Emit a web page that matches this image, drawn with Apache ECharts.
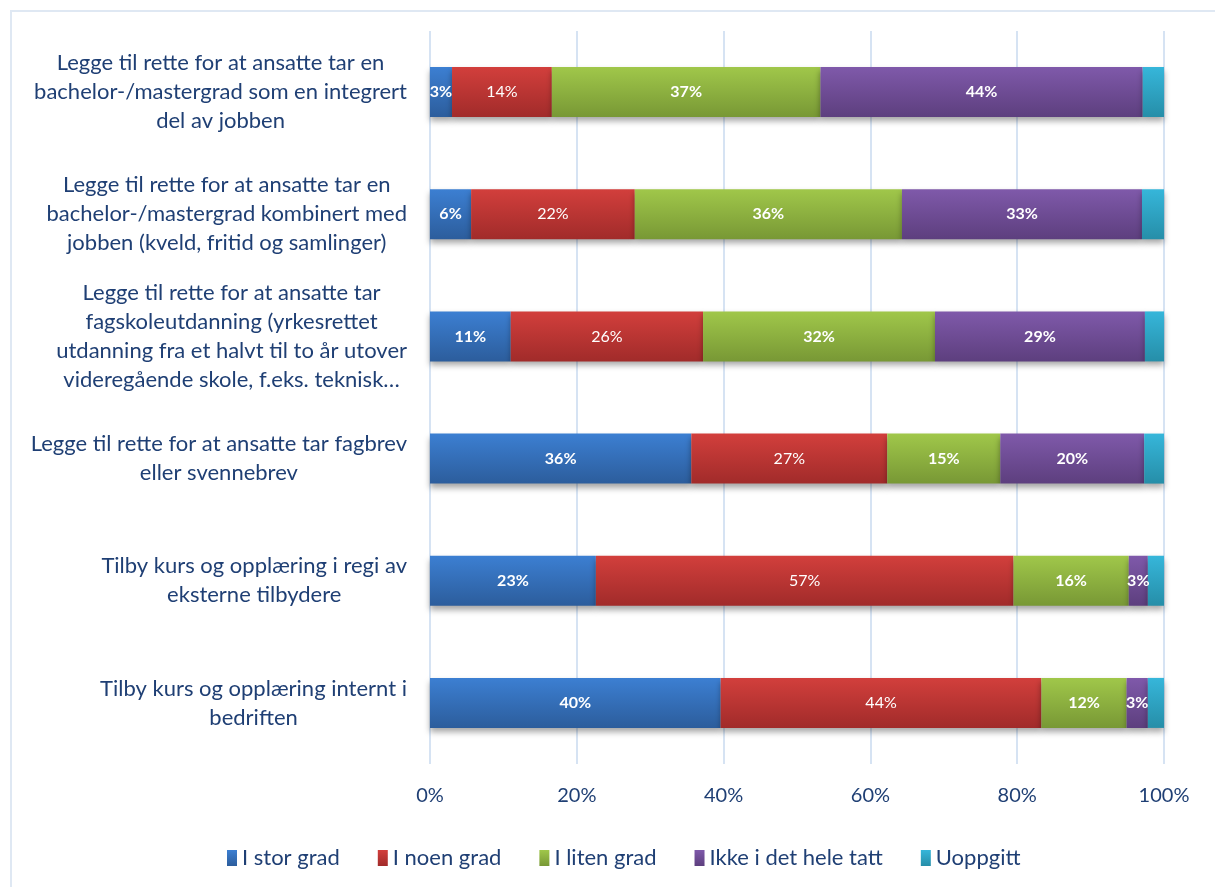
<!DOCTYPE html>
<html>
<head>
<meta charset="utf-8">
<script src="https://cdn.jsdelivr.net/npm/echarts@6/dist/echarts.min.js"></script>
<style>
  html, body { margin: 0; padding: 0; background: #fff; }
  #frame { position: absolute; left: 10px; top: 10px; width: 1220px; height: 890px; border: 2px solid #dfe8f3; box-sizing: border-box; }
  #chart { position: absolute; left: 0; top: 0; width: 1215px; height: 887px; }
</style>
</head>
<body>
<div id="frame"></div>
<div id="chart"></div>
<script>
// kategorier (ovenfra og ned)
const categories = [
  'Legge til rette for at ansatte tar en\nbachelor-/mastergrad som en integrert\ndel av jobben',
  'Legge til rette for at ansatte tar en\nbachelor-/mastergrad kombinert med\njobben (kveld, fritid og samlinger)',
  'Legge til rette for at ansatte tar\nfagskoleutdanning (yrkesrettet\nutdanning fra et halvt til to år utover\nvideregående skole, f.eks. teknisk…',
  'Legge til rette for at ansatte tar fagbrev\neller svennebrev',
  'Tilby kurs og opplæring i regi av\neksterne tilbydere',
  'Tilby kurs og opplæring internt i\nbedriften'
];

const seriesNames = ['I stor grad', 'I noen grad', 'I liten grad', 'Ikke i det hele tatt', 'Uoppgitt'];

// andeler i prosent
const iStorGrad   = [3.0, 5.6, 11.0, 35.6, 22.6, 39.6];
const iNoenGrad   = [13.6, 22.3, 26.2, 26.7, 56.9, 43.7];
const iLitenGrad  = [36.6, 36.4, 31.6, 15.4, 15.7, 11.6];
const ikkeIDet    = [43.9, 32.7, 28.6, 19.6, 2.6, 2.9];
const uoppgitt    = [2.9, 3.0, 2.6, 2.7, 2.2, 2.2];

const tickValues = [0, 20, 40, 60, 80, 100];

const textColor = '#1f3f74';

// farger: topp og bunn av gradienten
const colors = [
  ['#3c7fd2', '#2c5d9c'],
  ['#d23f3c', '#a12b2a'],
  ['#a0c74a', '#789835'],
  ['#7f59aa', '#5d3f7e'],
  ['#36b6da', '#268ea8']
];

function grad(c) {
  return new echarts.graphic.LinearGradient(0, 0, 0, 1, [
    { offset: 0, color: c[0] },
    { offset: 1, color: c[1] }
  ]);
}

const allData = [iStorGrad, iNoenGrad, iLitenGrad, ikkeIDet, uoppgitt];

const series = allData.map((d, i) => ({
  name: seriesNames[i],
  type: 'bar',
  stack: 'total',
  barWidth: 50,
  data: d,
  itemStyle: {
    color: grad(colors[i]),
    shadowColor: 'rgba(0,0,0,0.35)',
    shadowBlur: 6,
    shadowOffsetY: 4
  },
  label: {
    show: i < 4,
    position: 'inside',
    color: '#fff',
    fontFamily: 'Lato',
    fontSize: 16,
    fontWeight: i === 1 ? 'normal' : 'bold',
    formatter: p => Math.round(p.value) + '%'
  }
}));

const myChart = echarts.init(document.getElementById('chart'));

const option = {
  animation: false,
  textStyle: { fontFamily: 'Lato' },
  grid: { left: 430, right: 51, top: 31, bottom: 123 },
  legend: {
    data: seriesNames.map((n, i) => ({ name: n, itemStyle: { color: grad(colors[i]) } })),
    left: 222,
    top: 842,
    icon: 'rect',
    itemWidth: 10,
    itemHeight: 16,
    itemGap: 38,
    textStyle: { color: textColor, fontSize: 22, fontFamily: 'Lato' }
  },
  xAxis: {
    type: 'value',
    min: 0,
    max: 100,
    interval: 20,
    axisLine: { show: false },
    axisTick: { show: false },
    splitLine: { show: true, lineStyle: { color: '#d6e3f3', width: 2 } },
    axisLabel: {
      color: textColor,
      fontSize: 20,
      margin: 22,
      formatter: v => (tickValues.indexOf(v) >= 0 ? v + '%' : '')
    }
  },
  yAxis: {
    type: 'category',
    inverse: true,
    data: categories,
    axisLine: { show: false },
    axisTick: { show: false },
    axisLabel: {
      margin: 23,
      align: 'right',
      formatter: v => v.split('\n').map(s => '{c|' + s + '}').join('\n'),
      rich: {
        c: { align: 'center', color: textColor, fontSize: 22, lineHeight: 29, fontFamily: 'Lato' }
      }
    }
  },
  series: series
};

myChart.setOption(option);
</script>
</body>
</html>
